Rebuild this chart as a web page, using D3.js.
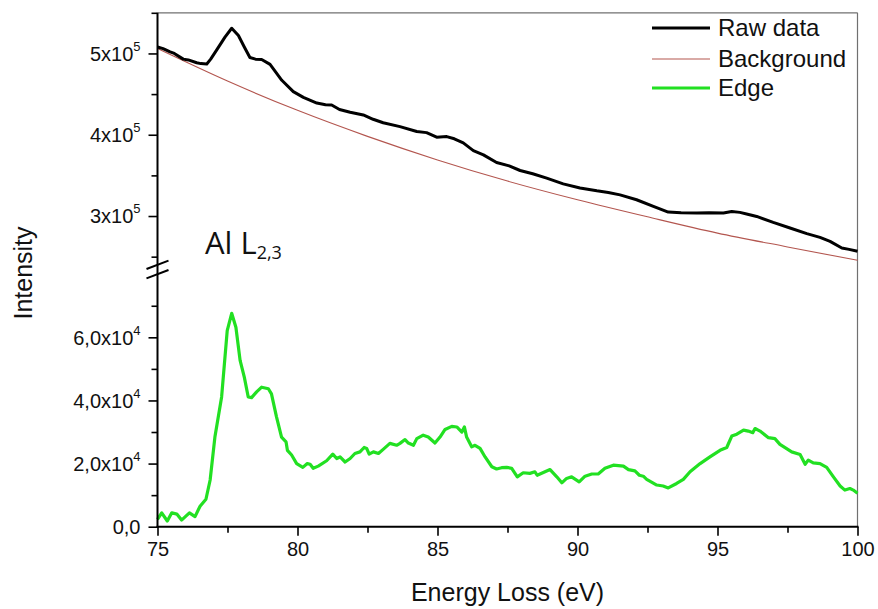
<!DOCTYPE html>
<html>
<head>
<meta charset="utf-8">
<script src="https://cdn.jsdelivr.net/npm/d3@7"></script>
<style>
  html, body { margin: 0; padding: 0; background: #fff; }
  svg { display: block; font-family: "Liberation Sans", Arial, sans-serif; }
</style>
</head>
<body>
<svg id="chart" width="878" height="609"></svg>
<script>
// Energy axis (eV)
const xTicksMajor = [75, 80, 85, 90, 95, 100];
const xTicksMinor = [77.5, 82.5, 87.5, 92.5, 97.5];

// Upper panel ticks (raw data and background)
const topTicksMajor = [3e5, 4e5, 5e5];
const topTicksMinor = [2.5e5, 3.5e5, 4.5e5, 5.5e5];
const topTickLabels = [["3x10", "5"], ["4x10", "5"], ["5x10", "5"]];

// Lower panel ticks (background-subtracted edge)
const botTicksMajor = [0, 2e4, 4e4, 6e4];
const botTicksMinor = [1e4, 3e4, 5e4, 7e4];
const botTickLabels = [["0,0", ""], ["2,0x10", "4"], ["4,0x10", "4"], ["6,0x10", "4"]];

// Raw spectrum
const rawE = [75.0, 75.2, 75.45, 75.6, 75.92, 76.1, 76.4, 76.55, 76.76, 76.9, 77.11, 77.41, 77.65, 77.89, 78.1, 78.3, 78.5, 78.72, 79.02, 79.44, 79.85, 80.21, 80.69, 81.0, 81.22, 81.5, 81.88, 82.35, 82.7, 83.06, 83.66, 84.26, 84.61, 84.97, 85.33, 85.6, 85.92, 86.28, 86.64, 87.11, 87.56, 87.95, 88.4, 88.9, 89.49, 90.09, 90.69, 91.1, 91.52, 92.11, 92.71, 93.24, 93.7, 94.26, 94.7, 95.21, 95.51, 95.8, 96.04, 96.4, 96.99, 97.59, 98.19, 98.66, 99.02, 99.44, 99.7, 100.0];
const rawI = [5.08, 5.06, 5.02, 5.0, 4.93, 4.92, 4.885, 4.875, 4.87, 4.93, 5.04, 5.2, 5.31, 5.22, 5.08, 4.95, 4.93, 4.925, 4.865, 4.67, 4.53, 4.46, 4.39, 4.37, 4.365, 4.31, 4.276, 4.243, 4.19, 4.148, 4.1, 4.04, 4.026, 3.97, 3.977, 3.95, 3.9, 3.805, 3.752, 3.658, 3.617, 3.56, 3.52, 3.466, 3.396, 3.344, 3.31, 3.29, 3.26, 3.2, 3.118, 3.049, 3.04, 3.037, 3.04, 3.037, 3.056, 3.045, 3.025, 2.995, 2.921, 2.853, 2.783, 2.737, 2.688, 2.607, 2.59, 2.566].map(v => v * 1e5);

// Fitted background
const bgE = [75, 77.5, 80, 82.5, 85, 87.5, 90, 92.5, 95, 97.5, 100];
const bgI = [5.06, 4.66, 4.30, 3.98, 3.69, 3.43, 3.20, 2.99, 2.79, 2.62, 2.455].map(v => v * 1e5);

// Al L2,3 edge after background subtraction
const edgeE = [75.0, 75.15, 75.35, 75.51, 75.69, 75.86, 76.14, 76.34, 76.52, 76.73, 76.88, 77.05, 77.29, 77.49, 77.65, 77.8, 77.95, 78.1, 78.24, 78.36, 78.54, 78.72, 78.96, 79.07, 79.25, 79.43, 79.59, 79.64, 79.79, 79.97, 80.19, 80.35, 80.45, 80.56, 80.74, 81.04, 81.26, 81.4, 81.52, 81.7, 81.88, 82.05, 82.23, 82.38, 82.47, 82.56, 82.71, 82.89, 83.06, 83.3, 83.54, 83.66, 83.84, 83.96, 84.14, 84.26, 84.49, 84.67, 84.91, 85.09, 85.27, 85.51, 85.69, 85.87, 85.96, 86.04, 86.22, 86.34, 86.52, 86.7, 86.94, 87.11, 87.29, 87.47, 87.65, 87.85, 88.06, 88.3, 88.48, 88.56, 89.02, 89.26, 89.44, 89.61, 89.79, 90.06, 90.27, 90.51, 90.74, 90.98, 91.28, 91.64, 91.82, 92.05, 92.21, 92.35, 92.47, 92.83, 93.06, 93.24, 93.54, 93.78, 94.02, 94.38, 94.73, 95.09, 95.33, 95.51, 95.69, 95.93, 96.1, 96.26, 96.34, 96.52, 96.82, 97.05, 97.23, 97.65, 97.95, 98.13, 98.24, 98.42, 98.66, 98.9, 99.14, 99.38, 99.55, 99.73, 99.85, 100.0];
const edgeI = [0.23, 0.44, 0.18, 0.44, 0.4, 0.21, 0.44, 0.32, 0.65, 0.87, 1.48, 2.84, 4.11, 6.21, 6.76, 6.32, 5.27, 4.74, 4.11, 4.09, 4.27, 4.42, 4.37, 4.21, 3.48, 2.84, 2.69, 2.42, 2.27, 2.0, 1.88, 2.0, 1.98, 1.85, 1.92, 2.09, 2.3, 2.16, 2.21, 2.05, 2.16, 2.32, 2.37, 2.51, 2.48, 2.3, 2.37, 2.32, 2.45, 2.64, 2.58, 2.64, 2.76, 2.65, 2.58, 2.79, 2.9, 2.84, 2.65, 2.84, 3.08, 3.18, 3.16, 3.0, 3.16, 2.84, 2.53, 2.58, 2.48, 2.21, 1.9, 1.83, 1.87, 1.88, 1.85, 1.58, 1.71, 1.69, 1.74, 1.63, 1.81, 1.58, 1.39, 1.53, 1.58, 1.42, 1.6, 1.67, 1.67, 1.85, 1.95, 1.92, 1.81, 1.77, 1.63, 1.6, 1.5, 1.32, 1.29, 1.23, 1.37, 1.5, 1.74, 2.0, 2.21, 2.42, 2.51, 2.87, 2.93, 3.06, 3.03, 2.98, 3.11, 3.03, 2.82, 2.79, 2.61, 2.37, 2.29, 1.98, 2.11, 2.02, 2.0, 1.88, 1.58, 1.29, 1.16, 1.21, 1.16, 1.06].map(v => v * 1e4);

const seriesNames = ["Raw data", "Background", "Edge"];
const colors = { raw: "#000000", bg: "#b3564f", edge: "#22e022" };

// ---- layout ----
const plotLeft = 157.5, plotRight = 857.5, plotTop = 12.8, plotBottom = 526.7;
const topPanelBottom = 264.8, botPanelTop = 274.2;

const svg = d3.select("#chart");

const x = d3.scaleLinear().domain([75, 100]).range([plotLeft, plotRight]);
const yTop = d3.scaleLinear().domain([2.4e5, 5.5e5]).range([topPanelBottom, plotTop]);
const yBot = d3.scaleLinear().domain([0, 8e4]).range([plotBottom, botPanelTop]);

// frame: thin grey top and right edges
svg.append("line").attr("x1", plotLeft).attr("x2", plotRight).attr("y1", plotTop).attr("y2", plotTop)
  .attr("stroke", "#707070").attr("stroke-width", 1.2);
svg.append("line").attr("x1", plotRight).attr("x2", plotRight).attr("y1", plotTop).attr("y2", plotBottom)
  .attr("stroke", "#707070").attr("stroke-width", 1.2);

// ---- curves ----
const toPts = (E, I) => E.map((e, i) => [e, I[i]]);

const smoothTop = d3.line().x(d => x(d[0])).y(d => yTop(d[1])).curve(d3.curveMonotoneX);
const lineTop = d3.line().x(d => x(d[0])).y(d => yTop(d[1]));
const lineBot = d3.line().x(d => x(d[0])).y(d => yBot(d[1]));

svg.append("path").datum(toPts(bgE, bgI)).attr("d", smoothTop)
  .attr("fill", "none").attr("stroke", colors.bg).attr("stroke-width", 1.1);

svg.append("path").datum(toPts(rawE, rawI)).attr("d", lineTop)
  .attr("fill", "none").attr("stroke", colors.raw).attr("stroke-width", 3)
  .attr("stroke-linejoin", "round");

svg.append("path").datum(toPts(edgeE, edgeI)).attr("d", lineBot)
  .attr("fill", "none").attr("stroke", colors.edge).attr("stroke-width", 3.2)
  .attr("stroke-linejoin", "round");

// ---- axes ----
function styleAxis(g) {
  g.select(".domain").remove();
  g.selectAll(".tick line").attr("stroke", "#000").attr("stroke-width", 1.6);
  g.selectAll(".tick text").remove();
}

// x axis
const xMajor = svg.append("g").attr("transform", `translate(0,${plotBottom})`)
  .call(d3.axisBottom(x).tickValues(xTicksMajor).tickSize(9).tickFormat(d3.format("d")));
xMajor.select(".domain").remove();
xMajor.selectAll(".tick line").attr("stroke", "#000").attr("stroke-width", 1.6);
xMajor.selectAll(".tick text")
  .attr("y", 15).attr("dy", "0.71em")
  .attr("font-size", 20).attr("fill", "#111")
  .attr("font-family", "'Liberation Sans', Arial, sans-serif");

svg.append("g").attr("transform", `translate(0,${plotBottom})`)
  .call(d3.axisBottom(x).tickValues(xTicksMinor).tickSize(6).tickFormat(""))
  .call(styleAxis);

// y axes (two panels)
svg.append("g").attr("transform", `translate(${plotLeft},0)`)
  .call(d3.axisLeft(yTop).tickValues(topTicksMajor).tickSize(9).tickFormat(""))
  .call(styleAxis);
svg.append("g").attr("transform", `translate(${plotLeft},0)`)
  .call(d3.axisLeft(yTop).tickValues(topTicksMinor).tickSize(6).tickFormat(""))
  .call(styleAxis);
svg.append("g").attr("transform", `translate(${plotLeft},0)`)
  .call(d3.axisLeft(yBot).tickValues(botTicksMajor).tickSize(9).tickFormat(""))
  .call(styleAxis);
svg.append("g").attr("transform", `translate(${plotLeft},0)`)
  .call(d3.axisLeft(yBot).tickValues(botTicksMinor).tickSize(6).tickFormat(""))
  .call(styleAxis);

// tick labels with superscript exponents
function sciLabels(values, labels, scale) {
  const t = svg.append("g").selectAll("text").data(values).join("text")
    .attr("x", plotLeft - 17)
    .attr("y", d => scale(d))
    .attr("dy", "0.36em")
    .attr("text-anchor", "end")
    .attr("font-size", 20)
    .attr("fill", "#111");
  t.append("tspan").text((d, i) => labels[i][0]);
  t.append("tspan").text((d, i) => labels[i][1])
    .attr("font-size", 13).attr("dy", "-0.75em");
}
sciLabels(topTicksMajor, topTickLabels, yTop);
sciLabels(botTicksMajor, botTickLabels, yBot);

// continuous left and bottom axis lines
svg.append("line").attr("x1", plotLeft).attr("x2", plotLeft).attr("y1", plotTop).attr("y2", plotBottom + 1)
  .attr("stroke", "#000").attr("stroke-width", 2);
svg.append("line").attr("x1", plotLeft - 1).attr("x2", plotRight + 1).attr("y1", plotBottom).attr("y2", plotBottom)
  .attr("stroke", "#000").attr("stroke-width", 2);

// axis break marks
[topPanelBottom, botPanelTop].forEach(yy => {
  svg.append("line")
    .attr("x1", plotLeft - 11).attr("y1", yy + 4.2)
    .attr("x2", plotLeft + 11).attr("y2", yy - 4.2)
    .attr("stroke", "#000").attr("stroke-width", 2);
});

// axis titles
svg.append("text")
  .attr("x", (plotLeft + plotRight) / 2).attr("y", 601)
  .attr("text-anchor", "middle").attr("font-size", 25).attr("fill", "#111")
  .text("Energy Loss (eV)");

svg.append("text")
  .attr("transform", "translate(31.5,273) rotate(-90)")
  .attr("text-anchor", "middle").attr("font-size", 25).attr("fill", "#111")
  .text("Intensity");

// edge label
const lbl = svg.append("text")
  .attr("x", 205).attr("y", 253.5)
  .attr("font-family", "'Open Sans', sans-serif")
  .attr("font-size", 31).attr("fill", "#111");
lbl.append("tspan").text("Al L");
lbl.append("tspan").text("2,3").attr("font-size", 18).attr("dy", 5);

// legend
const legendRows = [
  { name: seriesNames[0], color: colors.raw, w: 3, y: 28 },
  { name: seriesNames[1], color: colors.bg, w: 1.1, y: 59 },
  { name: seriesNames[2], color: colors.edge, w: 3.2, y: 88 }
];
const leg = svg.append("g");
leg.selectAll("line").data(legendRows).join("line")
  .attr("x1", 652).attr("x2", 710)
  .attr("y1", d => d.y).attr("y2", d => d.y)
  .attr("stroke", d => d.color).attr("stroke-width", d => d.w);
leg.selectAll("text").data(legendRows).join("text")
  .attr("x", 718).attr("y", d => d.y)
  .attr("dy", "0.35em")
  .attr("font-size", 24).attr("fill", "#111")
  .text(d => d.name);
</script>
</body>
</html>
